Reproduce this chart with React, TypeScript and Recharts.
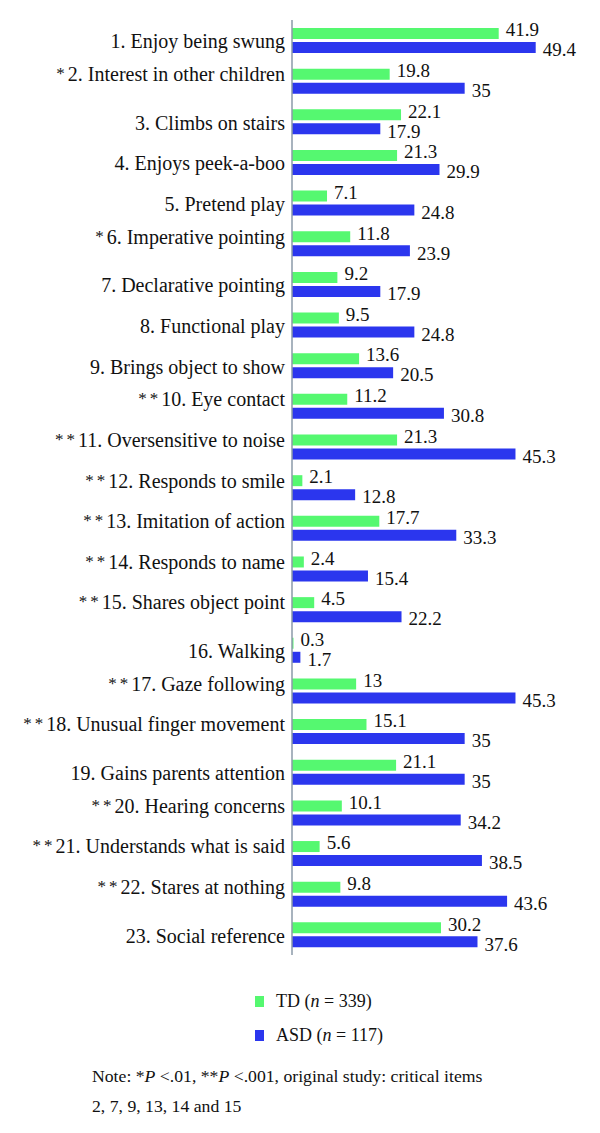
import { BarChart, Bar, XAxis, YAxis, LabelList, Legend } from 'recharts'

const items = [
  '1. Enjoy being swung',
  '2. Interest in other children',
  '3. Climbs on stairs',
  '4. Enjoys peek-a-boo',
  '5. Pretend play',
  '6. Imperative pointing',
  '7. Declarative pointing',
  '8. Functional play',
  '9. Brings object to show',
  '10. Eye contact',
  '11. Oversensitive to noise',
  '12. Responds to smile',
  '13. Imitation of action',
  '14. Responds to name',
  '15. Shares object point',
  '16. Walking',
  '17. Gaze following',
  '18. Unusual finger movement',
  '19. Gains parents attention',
  '20. Hearing concerns',
  '21. Understands what is said',
  '22. Stares at nothing',
  '23. Social reference',
]
const marks = ['', '*', '', '', '', '*', '', '', '', '**', '**', '**', '**', '**', '**', '', '**', '**', '', '**', '**', '**', '']
const td = [41.9, 19.8, 22.1, 21.3, 7.1, 11.8, 9.2, 9.5, 13.6, 11.2, 21.3, 2.1, 17.7, 2.4, 4.5, 0.3, 13, 15.1, 21.1, 10.1, 5.6, 9.8, 30.2]
const asd = [49.4, 35, 17.9, 29.9, 24.8, 23.9, 17.9, 24.8, 20.5, 30.8, 45.3, 12.8, 33.3, 15.4, 22.2, 1.7, 45.3, 35, 35, 34.2, 38.5, 43.6, 37.6]

const data = items.map((name, i) => ({ name, mark: marks[i], td: td[i], asd: asd[i] }))

const GREEN = '#55f870'
const BLUE = '#2b36ee'
const FONT = "'Liberation Serif', 'DejaVu Serif', serif"

function ItemTick(props: any) {
  const { x, y, payload, index } = props
  const mark = marks[index] || ''
  return (
    <text x={x} y={y} dy={8} textAnchor="end" style={{ fontFamily: FONT, fontSize: 20 }} fill="#111">
      {mark && <tspan style={{ fontSize: 17 }} letterSpacing={3} dy={-2}>{mark}</tspan>}
      {mark ? <tspan dy={2}>{payload.value}</tspan> : payload.value}
    </text>
  )
}

function LegendBox() {
  return (
    <div style={{ fontFamily: FONT, fontSize: 18, color: '#111' }}>
      <div style={{ display: 'flex', alignItems: 'center', height: 34 }}>
        <span style={{ width: 9, height: 11, background: GREEN, marginRight: 12 }} />
        <span>TD (<i>n</i> = 339)</span>
      </div>
      <div style={{ display: 'flex', alignItems: 'center', height: 34 }}>
        <span style={{ width: 9, height: 11, background: BLUE, marginRight: 12 }} />
        <span>ASD (<i>n</i> = 117)</span>
      </div>
    </div>
  )
}

export default function App() {
  return (
    <div style={{ position: 'absolute', left: 0, top: 0, width: 600, height: 1133, background: '#fff', fontFamily: FONT }}>
      <BarChart
        width={600}
        height={1133}
        data={data}
        layout="vertical"
        margin={{ top: 20, right: 12, bottom: 178, left: 0 }}
        barSize={11}
        barGap={3}
      >
        <XAxis type="number" domain={[0, 60]} hide />
        <YAxis
          type="category"
          dataKey="name"
          width={292}
          tickLine={false}
          tickSize={0}
          tickMargin={7}
          axisLine={{ stroke: '#8b9aa8', strokeWidth: 1.5 }}
          tick={<ItemTick />}
          interval={0}
        />
        <Legend
          layout="vertical"
          align="center"
          verticalAlign="middle"
          wrapperStyle={{ top: 984, left: 255, width: 200 }}
          content={<LegendBox />}
        />
        <Bar dataKey="td" name="TD (n = 339)" fill={GREEN} isAnimationActive={false}>
          <LabelList dataKey="td" position="right" offset={7} style={{ fontFamily: FONT, fontSize: 19 }} fill="#111" dy={-4} />
        </Bar>
        <Bar dataKey="asd" name="ASD (n = 117)" fill={BLUE} isAnimationActive={false}>
          <LabelList dataKey="asd" position="right" offset={7} style={{ fontFamily: FONT, fontSize: 19 }} fill="#111" dy={2} />
        </Bar>
      </BarChart>
      <div style={{ position: 'absolute', left: 92, top: 1061, fontFamily: FONT, fontSize: 17.7, lineHeight: '30px', color: '#111', width: 500 }}>
        Note: *<i>P</i> &lt;.01, **<i>P</i> &lt;.001, original study: critical items
        <br />
        2, 7, 9, 13, 14 and 15
      </div>
    </div>
  )
}
